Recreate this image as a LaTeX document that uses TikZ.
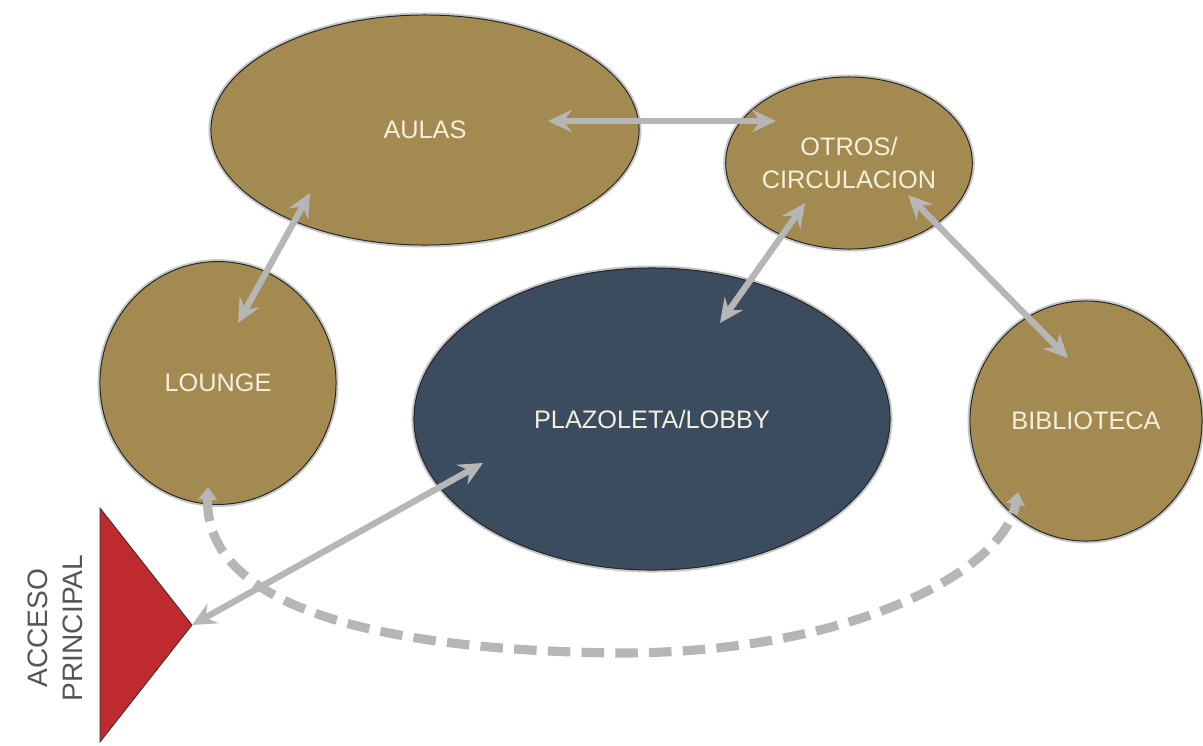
\documentclass[tikz,border=0pt]{standalone}
\usepackage{fontspec}
\setmainfont{Liberation Sans}
\usepackage{tikz}
\usetikzlibrary{shapes.geometric, arrows.meta, calc}
\definecolor{mygold}{RGB}{162,138,81}
\definecolor{myslate}{RGB}{58,76,94}
\definecolor{myred}{RGB}{190,42,46}
\definecolor{mygrey}{RGB}{182,182,182}
\definecolor{mycream}{RGB}{245,239,222}
\definecolor{mylabel}{RGB}{85,85,85}
\tikzset{
  blob/.style={ellipse, draw=black!85, line width=0.7pt, inner sep=0pt,
    preaction={draw=black!22, line width=3.5pt},
    text=mycream, align=center, font=\fontsize{18}{23}\selectfont},
  goldblob/.style={blob, fill=mygold},
  slateblob/.style={blob, fill=myslate},
  link/.style={{Stealth[length=17pt,width=16pt,inset=6pt]}-{Stealth[length=17pt,width=16pt,inset=6pt]},
    line width=4.5pt, color=mygrey},
  dashlink/.style={{Triangle[length=9pt,width=13pt]}-{Triangle[length=9pt,width=13pt]},
    line width=6.5pt, dash pattern=on 16pt off 8pt, color=mygrey},
  tag/.style={text=mylabel, align=center, font=\fontsize{20}{25}\selectfont}
}

\begin{document}
\begin{tikzpicture}[x=0.025cm, y=-0.025cm]
  \useasboundingbox (0,0) rectangle (1203,745);

  % Spaces
  \node[goldblob, minimum width=10.7cm, minimum height=5.75cm] (aulas) at (425,130) {AULAS};
  \node[goldblob, minimum width=5.8cm, minimum height=4.3cm] (otros) at (849,163) {OTROS/\\CIRCULACION};
  \node[goldblob, minimum width=5.9cm, minimum height=6.07cm] (lounge) at (218,383) {LOUNGE};
  \node[slateblob, minimum width=11.9cm, minimum height=7.55cm] (plaza) at (652,419) {PLAZOLETA/LOBBY};
  \node[goldblob, minimum width=5.8cm, minimum height=6.0cm] (biblio) at (1086,421) {BIBLIOTECA};

  % Main access
  \filldraw[fill=myred, draw=black!80, line width=0.6pt]
    (100,508) -- (100,742) -- (192,625) coordinate (acceso) -- cycle;
  \node[tag, rotate=90] (accesotxt) at (55,628) {ACCESO\\PRINCIPAL};

  % Links
  \draw[link] ($(aulas)+(123,-9)$) -- ($(otros)+(-73,-42)$);
  \draw[link] ($(aulas)+(-115,63)$) -- ($(lounge)+(20,-60)$);
  \draw[link] ($(otros)+(-44,40)$) -- ($(plaza)+(68,-96)$);
  \draw[link] ($(otros)+(59,32)$) -- ($(biblio)+(-18,-63)$);
  \draw[link] ($(plaza)+(-169,44)$) -- (acceso);

  % Outer loop
  \coordinate (dashlow) at (620,653);
  \draw[dashlink] ($(lounge)+(-10,104)$) .. controls +(-3,103) and +(-290,-3) .. (dashlow)
    .. controls +(230,0) and +(-15,80) .. ($(biblio)+(-68,71)$);
\end{tikzpicture}
\end{document}
